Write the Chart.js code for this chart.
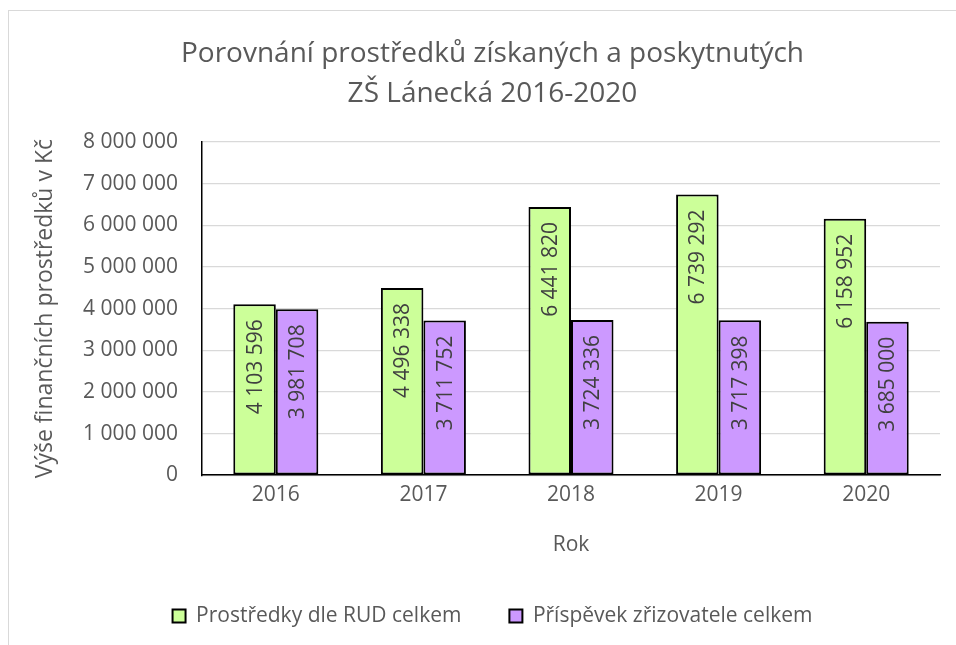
<!DOCTYPE html>
<html>
<head>
<meta charset="utf-8">
<script src="https://cdn.jsdelivr.net/npm/chart.js@4/dist/chart.umd.min.js"></script>
<style>
  html, body { margin: 0; padding: 0; background: #fff; overflow: hidden; }
  #wrap { position: relative; width: 956px; height: 645px; }
  #frame { position: absolute; left: 8px; top: 10px; width: 1000px; height: 700px; border: 1px solid #d9d9d9; box-sizing: border-box; }
  canvas { position: absolute; left: 0; top: 0; }
</style>
</head>
<body>
<div id="wrap">
  <div id="frame"></div>
  <canvas id="c" width="956" height="645"></canvas>
</div>
<script>
const categories = ['2016', '2017', '2018', '2019', '2020'];
const seriesNames = ['Prostředky dle RUD celkem', 'Příspěvek zřizovatele celkem'];
const rudValues = [4103596, 4496338, 6441820, 6739292, 6158952];
const zrizovatelValues = [3981708, 3711752, 3724336, 3717398, 3685000];
const yTickMin = 0;
const yTickMax = 8000000;
const yTickStep = 1000000;
const titleLines = ['Porovnání prostředků získaných a poskytnutých', 'ZŠ Lánecká 2016-2020'];
const xTitle = 'Rok';
const yTitle = 'Výše finančních prostředků v Kč';

const FONT = "'Open Sans', 'Noto Sans', sans-serif";
const TXT = '#595959';

function fmt(n) {
  return String(Math.round(n)).replace(/\B(?=(\d{3})+(?!\d))/g, ' ');
}

const barLabels = {
  id: 'barLabels',
  afterDatasetsDraw(chart) {
    const ctx = chart.ctx;
    ctx.save();
    ctx.font = "21px " + FONT;
    ctx.fillStyle = '#404040';
    ctx.textAlign = 'right';
    ctx.textBaseline = 'middle';
    chart.data.datasets.forEach((ds, di) => {
      const meta = chart.getDatasetMeta(di);
      meta.data.forEach((bar, i) => {
        ctx.save();
        ctx.translate(bar.x, bar.y + 15);
        ctx.rotate(-Math.PI / 2);
        ctx.fillText(fmt(ds.data[i]), 0, 1);
        ctx.restore();
      });
    });
    ctx.restore();
  }
};

new Chart(document.getElementById('c'), {
  type: 'bar',
  data: {
    labels: categories,
    datasets: [
      { label: seriesNames[0], data: rudValues, backgroundColor: '#CCFF99', borderColor: '#000000', borderWidth: 2, borderSkipped: false },
      { label: seriesNames[1], data: zrizovatelValues, backgroundColor: '#CC99FF', borderColor: '#000000', borderWidth: 2, borderSkipped: false }
    ]
  },
  options: {
    responsive: false,
    animation: false,
    devicePixelRatio: 1,
    layout: { padding: { left: 45, right: 16, top: 0, bottom: 8.4 } },
    datasets: { bar: { barPercentage: 1, categoryPercentage: 0.576 } },
    plugins: {
      title: {
        display: true,
        text: titleLines,
        color: TXT,
        font: { family: FONT, size: 28, weight: '400', lineHeight: 40 / 28 },
        padding: { top: 34, bottom: 28 }
      },
      legend: {
        position: 'bottom',
        labels: {
          color: TXT,
          font: { family: FONT, size: 21 },
          boxWidth: 13,
          boxHeight: 13,
          padding: 48,
          useBorderRadius: false
        }
      },
      tooltip: { enabled: false }
    },
    scales: {
      x: {
        grid: { display: false, drawTicks: false },
        border: { color: '#000000', width: 1.5 },
        ticks: { color: TXT, font: { family: FONT, size: 21 }, padding: 7 },
        title: { display: true, text: xTitle, color: TXT, font: { family: FONT, size: 21 }, padding: { top: 0, bottom: -0.2 } },
        afterFit(scale) { scale.height = 82.4; }
      },
      y: {
        min: yTickMin,
        max: yTickMax,
        grid: { color: '#d9d9d9', lineWidth: 1.3, drawTicks: false },
        border: { color: '#000000', width: 1.5 },
        ticks: { stepSize: yTickStep, color: TXT, font: { family: FONT, size: 21 }, padding: 24, callback: (v) => fmt(v) },
        title: { display: true, text: yTitle, color: TXT, font: { family: FONT, size: 23 }, padding: { top: -13.8, bottom: 0 } },
        afterFit(scale) { scale.width = 157; }
      }
    }
  },
  plugins: [barLabels]
});
</script>
</body>
</html>
